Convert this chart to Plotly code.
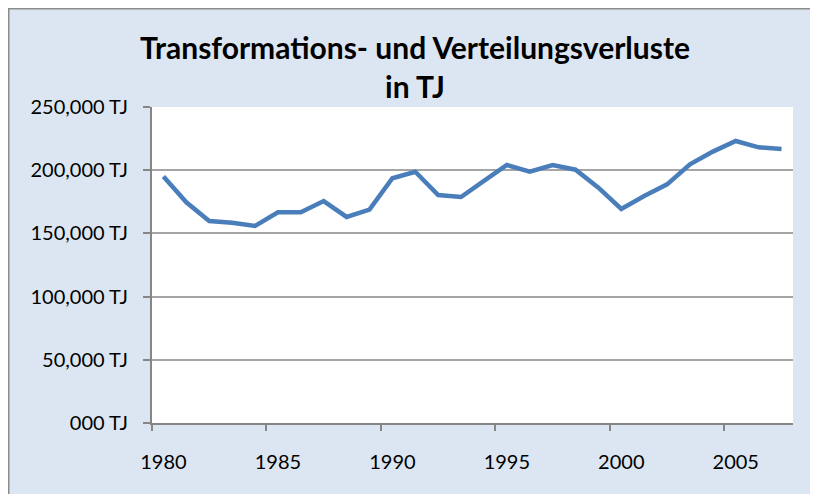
import plotly.graph_objects as go

years = list(range(1980, 2008))
losses_tj = [195000, 174600, 159800, 158500, 155900, 166700, 166700, 175600,
             163000, 168800, 193600, 198800, 180400, 178800, 191500, 204100,
             198800, 204100, 200400, 186200, 169300, 179600, 188800, 204700,
             214700, 223100, 218100, 216800]
y_tickvals = [0, 50000, 100000, 150000, 200000, 250000]
y_ticktext = ["000 TJ", "50,000 TJ", "100,000 TJ", "150,000 TJ", "200,000 TJ", "250,000 TJ"]
x_tickvals = [1980, 1985, 1990, 1995, 2000, 2005]
x_boundaries = [1979.5, 1984.5, 1989.5, 1994.5, 1999.5, 2004.5]

# page has an 8px body margin; figure placed at (8, 8)
OFF = 8
W, H = 818 - OFF, 494 - OFF
L, T = 152 - OFF, 107 - OFF
R = W - (793 - OFF)
B = H - (423 - OFF)
pw, ph = W - L - R, H - T - B

def px_x(p):
    return (p - L) / pw

def px_y(p):
    return (H - B - p) / ph

fig = go.Figure()
fig.add_trace(go.Scatter(x=years, y=losses_tj, mode="lines",
                         line=dict(color="#4a7ebb", width=4.5),
                         hoverinfo="skip"))

font_fam = "Lato, 'Open Sans', sans-serif"
fig.update_layout(
    width=W, height=H,
    margin=dict(l=L, r=R, t=T, b=B),
    paper_bgcolor="#dce6f2",
    plot_bgcolor="white",
    showlegend=False,
    title=dict(text="<b>Transformations- und Verteilungsverluste<br>in TJ</b>",
               x=(415 - OFF) / W, xanchor="center", y=1 - (59 - OFF) / H, yanchor="middle",
               font=dict(family=font_fam, size=30, color="black")),
    font=dict(family=font_fam, size=20, color="black"),
)
fig.update_xaxes(range=[1979.5, 2007.5], tickvals=x_tickvals,
                 ticktext=[str(v) for v in x_tickvals], ticks="",
                 showgrid=False, zeroline=False, showline=True,
                 linecolor="#868686", linewidth=2,
                 ticklabelstandoff=20,
                 tickfont=dict(family=font_fam, size=20),
                 minor=dict(tickvals=x_boundaries, ticks="outside", ticklen=6,
                            tickcolor="#868686", tickwidth=1.5, showgrid=False))
fig.update_yaxes(range=[0, 250000], tickvals=y_tickvals, ticktext=y_ticktext,
                 ticks="outside", ticklen=7, tickcolor="#868686", tickwidth=1.5,
                 showgrid=True, gridcolor="#a6a6a6", gridwidth=1.5,
                 zeroline=False, showline=True, linecolor="#868686", linewidth=2,
                 ticklabelstandoff=11,
                 tickfont=dict(family=font_fam, size=20))

# outer chart-area frame (top and left edges)
fig.add_shape(type="line", xref="paper", yref="paper",
              x0=px_x(0), x1=px_x(W), y0=px_y(0), y1=px_y(0),
              line=dict(color="#8c8c8c", width=3), layer="above")
fig.add_shape(type="line", xref="paper", yref="paper",
              x0=px_x(0), x1=px_x(0), y0=px_y(0), y1=px_y(H),
              line=dict(color="#8c8c8c", width=3), layer="above")

fig.write_html("out.html")
